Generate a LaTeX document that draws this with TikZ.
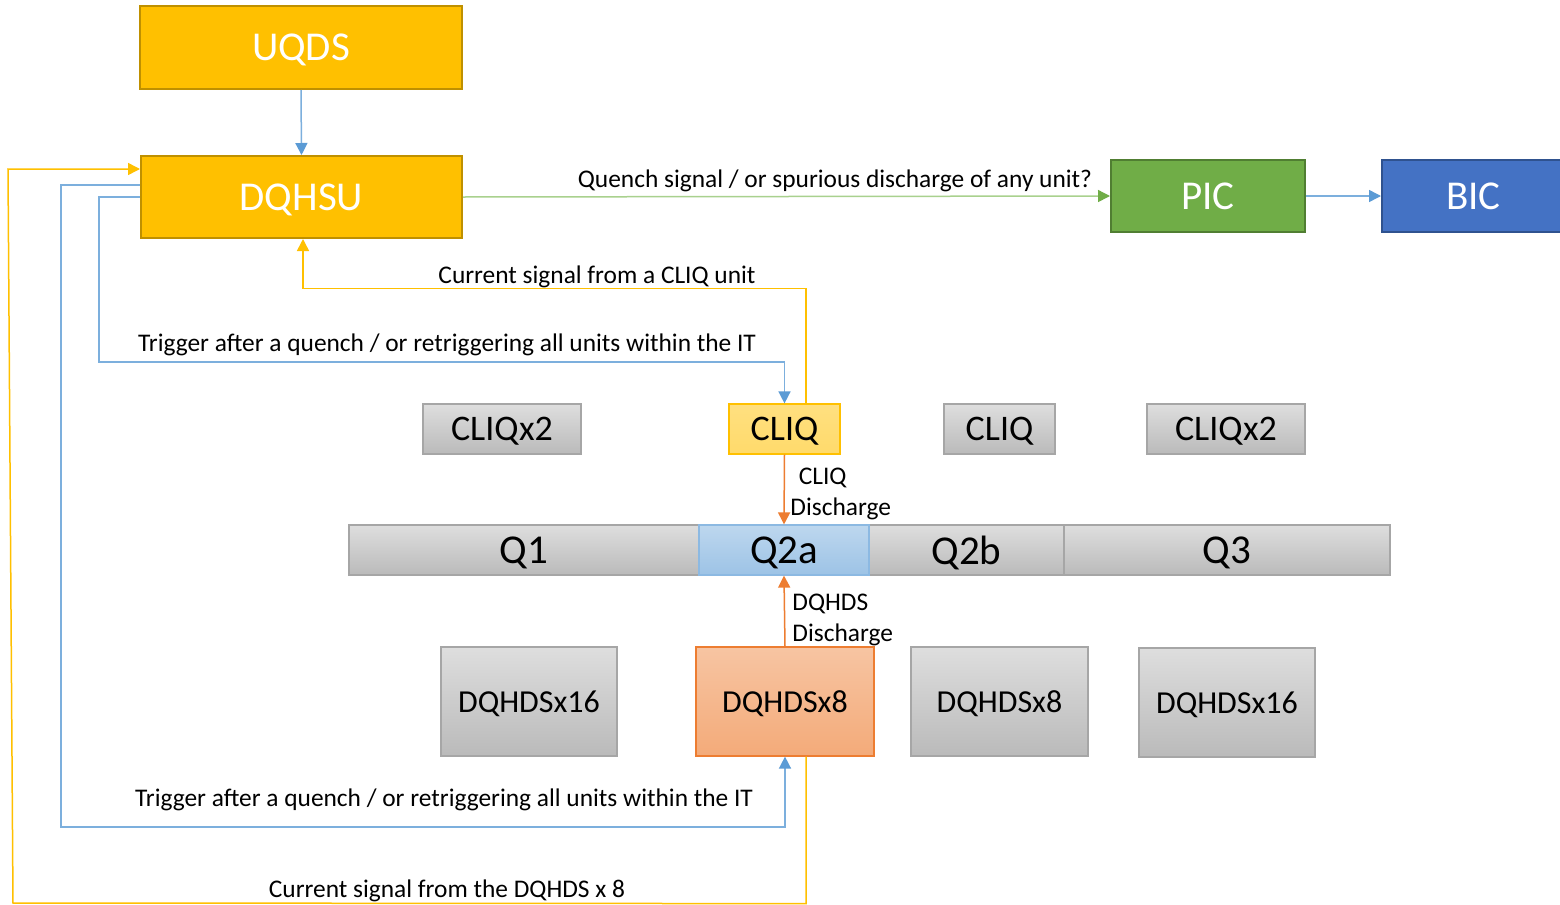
\documentclass[tikz,border=0pt]{standalone}
\usepackage{fontspec}
\setmainfont{Carlito}
\usetikzlibrary{arrows.meta,calc}
\definecolor{cyel}{HTML}{FFC000}
\definecolor{cyeld}{HTML}{BF9000}
\definecolor{cgrn}{HTML}{70AD47}
\definecolor{cgrnd}{HTML}{507E32}
\definecolor{cgrnl}{HTML}{A9D18E}
\definecolor{cblu}{HTML}{4472C4}
\definecolor{cblud}{HTML}{2F528F}
\definecolor{cline}{HTML}{5B9BD5}
\definecolor{corg}{HTML}{ED7D31}
\tikzset{
  x=0.5pt,y=-0.5pt,
  solidbox/.style={draw, line width=1pt, inner sep=0pt, text depth=0pt, text=white, font=\fontsize{20.5}{24}\selectfont},
  graybox/.style={draw=gray!70, line width=0.6pt, inner sep=0pt, text depth=0pt, top color=black!13, bottom color=black!27, font=\fontsize{18}{22}\selectfont},
  qbox/.style={graybox, font=\fontsize{20.5}{24}\selectfont},
  dbox/.style={graybox, font=\fontsize{16}{20}\selectfont},
  lbl/.style={inner sep=0pt, font=\fontsize{12.7}{15.5}\selectfont},
  conn/.style={line width=0.75pt, -{Triangle[length=6pt,width=6pt]}},
  bconn/.style={conn, draw=cline!80, -{Triangle[length=6pt,width=6pt,fill=cline,color=cline]}},
  yconn/.style={conn, draw=cyel, -{Triangle[length=6pt,width=6pt,fill=cyel,color=cyel]}},
  gconn/.style={conn, draw=cgrnl, -{Triangle[length=6pt,width=6pt,fill=cgrn,color=cgrn]}},
  oconn/.style={conn, draw=corg, -{Triangle[length=6pt,width=6pt,fill=corg,color=corg]}},
}
\begin{document}
\begin{tikzpicture}
\clip (0,0) rectangle (1560,905);
\fill[white] (0,0) rectangle (1560,905);
% top blocks
\node[solidbox, fill=cyel, draw=cyeld, minimum width=161pt, minimum height=41.5pt] (UQDS) at (301,47.5) {UQDS};
\node[solidbox, fill=cyel, draw=cyeld, minimum width=160.5pt, minimum height=41pt] (DQHSU) at (301.5,197) {DQHSU};
\node[solidbox, fill=cgrn, draw=cgrnd, minimum width=97pt, minimum height=36pt] (PIC) at (1208,196) {PIC};
\node[solidbox, fill=cblu, draw=cblud, minimum width=91.5pt, minimum height=36pt] (BIC) at (1473.5,196) {BIC};
% CLIQ row
\node[graybox, minimum width=79pt, minimum height=25pt] (CL1) at (502,429) {CLIQx2};
\node[graybox, draw=cyel, top color=cyel!50, bottom color=cyel!58, minimum width=55.5pt, minimum height=25pt] (CLo) at (784.5,429) {CLIQ};
\node[graybox, minimum width=55.5pt, minimum height=25pt] (CL3) at (999.5,429) {CLIQ};
\node[graybox, minimum width=79pt, minimum height=25pt] (CL4) at (1226,429) {CLIQx2};
% magnet row
\node[qbox, minimum width=175pt, minimum height=25pt] (Q1) at (524,550) {Q1};
\node[qbox, minimum width=97.5pt, minimum height=25pt] (Q2b) at (966.5,550) {Q2b};
\node[qbox, minimum width=163pt, minimum height=25pt] (Q3) at (1227,550) {Q3};
\node[qbox, draw=cline!70, top color=cline!40, bottom color=cline!60, minimum width=85pt, minimum height=25pt] (Q2a) at (784,550) {Q2a};
% DQHDS row
\node[dbox, minimum width=88pt, minimum height=54.5pt] (D1) at (529,701.5) {DQHDSx16};
\node[dbox, draw=corg, top color=corg!45, bottom color=corg!65, minimum width=89pt, minimum height=54.5pt] (Do) at (785,701.5) {DQHDSx8};
\node[dbox, minimum width=88.5pt, minimum height=54.5pt] (D3) at (999.5,701.5) {DQHDSx8};
\node[dbox, minimum width=88pt, minimum height=54.5pt] (D4) at (1227,702.5) {DQHDSx16};
% connectors
\draw[bconn] (UQDS.south) -- (DQHSU.north);
\draw[gconn] (DQHSU.east) -- (PIC.west);
\draw[bconn] (PIC.east) -- (BIC.west);
\draw[yconn] ([xshift=10.75pt]CLo.north) -- ++(0,-115) -| ([xshift=0.75pt]DQHSU.south);
\draw[bconn] (DQHSU.west) -- ++(-41,0) -- ++(0,165) -| (CLo.north);
\draw[bconn] ([yshift=6pt]DQHSU.west) -- ++(-79,0) -- ++(0,642) -| (Do.south);
\coordinate (ybl) at (13,903);
\coordinate (ytl) at (8,169);
\draw[yconn] ([xshift=10.5pt]Do.south) -- ++(0,147) -- (ybl) -- (ytl) -- ([yshift=14pt]DQHSU.west);
\draw[oconn] (CLo.south) -- (Q2a.north);
\draw[oconn] (Do.north) -- (Q2a.south);
% labels
\node[lbl] (L1) at (835,181) {Quench signal / or spurious discharge of any unit?};
\node[lbl] (L2) at (597,277) {Current signal from a CLIQ unit};
\node[lbl] (L3) at (447,345) {Trigger after a quench / or retriggering all units within the IT};
\node[lbl] (L4) at (444,800) {Trigger after a quench / or retriggering all units within the IT};
\node[lbl] (L5) at (447,891) {Current signal from the DQHDS x 8};
\node[lbl, anchor=west, align=left] (L6) at (790,494) {\,\,CLIQ\\Discharge};
\node[lbl, anchor=west, align=left] (L7) at (792,620) {DQHDS\\Discharge};
\end{tikzpicture}
\end{document}
